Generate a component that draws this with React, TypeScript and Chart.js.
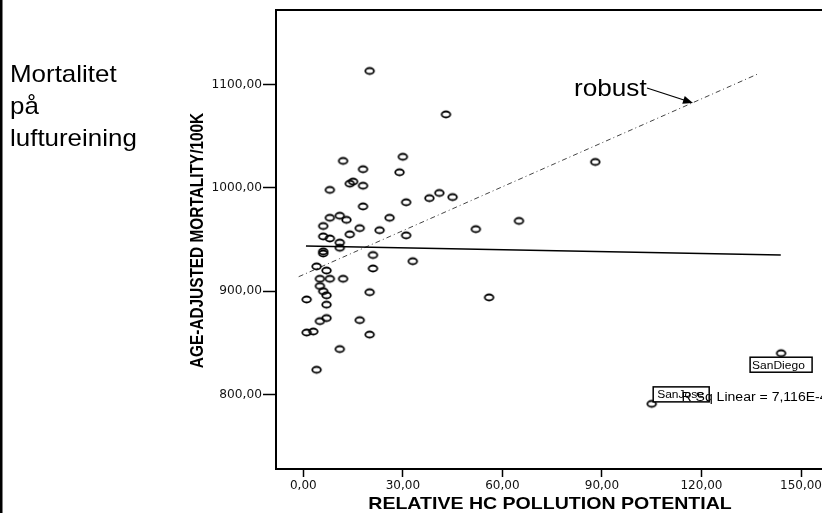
import React, { useEffect, useRef } from "react";
import { Chart, registerables } from "chart.js";
Chart.register(...registerables);

// Data
const hcPollution = [
  20, 43, 12, 30, 18, 29, 14, 15, 18, 8, 18, 31, 38, 41, 45, 65, 8, 11, 13, 26,
  6, 17, 6, 8, 14, 23, 31, 52, 11, 11, 6, 6, 21, 33, 4, 7, 21, 5, 8, 12, 5, 6,
  7, 1, 20, 7, 56, 5, 7, 17, 1, 3, 20, 11, 4, 88, 144, 105,
];
const mortality = [
  1113, 1071, 1026, 1030, 1018, 1015, 1004, 1006, 1002, 998, 982, 986, 990,
  995, 991, 968, 971, 973, 969, 971, 963, 961, 953, 951, 955, 959, 954, 960,
  947, 942, 938.5, 936.5, 935, 929, 924, 920, 922, 912, 912, 912, 905, 900, 896,
  892, 899, 887, 894, 871, 874, 872, 860, 861, 858, 844, 824, 1025, 840, 791,
];
const cityLabels = ["SanDiego", "SanJose"];
const cityIndex = [56, 57];
const linearFitX = [0.8, 143.9];
const linearFitY = [943.7, 935.0];
const robustFitX = [-1.4, 137.4];
const robustFitY = [914, 1110.7];
const xTickValues = [0, 30, 60, 90, 120, 150];
const yTickValues = [800, 900, 1000, 1100];
const sideTitle = ["Mortalitet", "på", "luftureining"];
const xTitle = "RELATIVE HC POLLUTION POTENTIAL";
const yTitle = "AGE-ADJUSTED MORTALITY/100K";
const rsqText = "R Sq Linear = 7,116E-4";
const robustText = "robust";

const SANS = "'Liberation Sans', Arial, sans-serif";

function sText(
  ctx: CanvasRenderingContext2D,
  text: string,
  x: number,
  y: number,
  font: string,
  sx: number,
  align: CanvasTextAlign = "left",
  baseline: CanvasTextBaseline = "alphabetic"
) {
  ctx.save();
  ctx.translate(x, y);
  ctx.scale(sx, 1);
  ctx.font = font;
  ctx.textAlign = align;
  ctx.textBaseline = baseline;
  ctx.fillStyle = "#000";
  ctx.fillText(text, 0, 0);
  ctx.restore();
}

function makeRing(): HTMLCanvasElement {
  const c = document.createElement("canvas");
  c.width = 13;
  c.height = 11;
  const g = c.getContext("2d")!;
  g.strokeStyle = "#000";
  g.lineWidth = 1.8;
  g.beginPath();
  g.ellipse(6.5, 5.5, 4.3, 3.0, 0, 0, Math.PI * 2);
  g.stroke();
  return c;
}

const decorPlugin = {
  id: "decor",
  afterDatasetsDraw(chart: any) {
    const ctx: CanvasRenderingContext2D = chart.ctx;
    const { left, right, top, bottom } = chart.chartArea;
    const xs = chart.scales.x;
    const ys = chart.scales.y;
    ctx.save();
    // outer left border
    ctx.fillStyle = "#000";
    ctx.fillRect(0, 0, 2.5, chart.height);
    // top frame
    ctx.strokeStyle = "#000";
    ctx.lineWidth = 2;
    ctx.beginPath();
    ctx.moveTo(left - 1, top);
    ctx.lineTo(right + 1, top);
    ctx.stroke();

    // side title
    sideTitle.forEach((t, i) =>
      sText(ctx, t, 10, 82 + i * 32, `24px ${SANS}`, 1.08)
    );

    // y title
    ctx.save();
    ctx.translate(198, (top + bottom) / 2 + 1);
    ctx.scale(1.2, 1);
    ctx.rotate(-Math.PI / 2);
    ctx.font = `bold 15.4px ${SANS}`;
    ctx.textAlign = "center";
    ctx.textBaseline = "middle";
    ctx.fillStyle = "#000";
    ctx.fillText(yTitle, 0, 0);
    ctx.restore();

    // x title
    sText(ctx, xTitle, 550, 504, `bold 17px ${SANS}`, 1.15, "center", "middle");

    // robust annotation
    sText(ctx, robustText, 574, 96, `24px ${SANS}`, 1.09);
    const ax0 = 647, ay0 = 88;
    const ax1 = 693, ay1 = 103;
    ctx.strokeStyle = "#000";
    ctx.lineWidth = 1.3;
    ctx.beginPath();
    ctx.moveTo(ax0, ay0);
    ctx.lineTo(ax1 - 6, ay1 - 2);
    ctx.stroke();
    const ang = Math.atan2(ay1 - ay0, ax1 - ax0);
    ctx.fillStyle = "#000";
    ctx.beginPath();
    ctx.moveTo(ax1, ay1);
    ctx.lineTo(ax1 - 10 * Math.cos(ang) + 4 * Math.sin(ang), ay1 - 10 * Math.sin(ang) - 4 * Math.cos(ang));
    ctx.lineTo(ax1 - 10 * Math.cos(ang) - 4 * Math.sin(ang), ay1 - 10 * Math.sin(ang) + 4 * Math.cos(ang));
    ctx.closePath();
    ctx.fill();

    // city label boxes
    cityLabels.forEach((label, i) => {
      const idx = cityIndex[i];
      const px = xs.getPixelForValue(hcPollution[idx]);
      const py = ys.getPixelForValue(mortality[idx]);
      const w = i === 0 ? 62 : 56;
      const h = 15;
      const bx = i === 0 ? px - 31 : px + 1.5;
      const by = i === 0 ? py + 4 : py - 17;
      ctx.fillStyle = "#fff";
      ctx.fillRect(bx, by, w, h);
      ctx.strokeStyle = "#000";
      ctx.lineWidth = 1.5;
      ctx.strokeRect(bx, by, w, h);
      sText(ctx, label, bx + (i === 0 ? 2 : 4), by + 11.5, `10px ${SANS}`, 1.2);
    });

    // R Sq text
    sText(ctx, rsqText, 681.5, 400.5, `12px ${SANS}`, 1.17);
    ctx.restore();
  },
};

export default function App() {
  const ref = useRef<HTMLCanvasElement>(null);
  useEffect(() => {
    if (!ref.current) return;
    const fmt = (v: any) => Number(v).toFixed(2).replace(".", ",");
    const ring = makeRing();
    const chart = new Chart(ref.current, {
      type: "scatter",
      data: {
        datasets: [
          {
            label: "points",
            data: hcPollution.map((x, i) => ({ x, y: mortality[i] })),
            pointStyle: ring,
            pointRadius: 5,
            borderColor: "#000",
            backgroundColor: "rgba(0,0,0,0)",
            showLine: false,
          },
          {
            label: "linear",
            data: linearFitX.map((x, i) => ({ x, y: linearFitY[i] })),
            showLine: true,
            pointRadius: 0,
            borderColor: "#000",
            borderWidth: 1.6,
          },
          {
            label: "robust",
            data: robustFitX.map((x, i) => ({ x, y: robustFitY[i] })),
            showLine: true,
            pointRadius: 0,
            borderColor: "#444",
            borderWidth: 1,
            borderDash: [5, 3, 1, 3],
          },
        ],
      },
      options: {
        animation: false,
        responsive: false,
        events: [],
        layout: { padding: { top: 10, left: 0, right: 6, bottom: 0 } },
        plugins: { legend: { display: false }, tooltip: { enabled: false } },
        scales: {
          x: {
            type: "linear",
            min: -8.23,
            max: 156.93,
            afterBuildTicks: (s: any) => {
              s.ticks = xTickValues.map((v) => ({ value: v }));
            },
            afterFit: (s: any) => {
              s.height = 44;
            },
            ticks: {
              callback: fmt,
              font: { family: "'DejaVu Sans'", size: 12 },
              color: "#111",
              padding: 2,
              maxRotation: 0,
            },
            grid: {
              drawOnChartArea: false,
              drawTicks: true,
              tickLength: 8,
              tickWidth: 1.5,
              tickColor: "#000",
            },
            border: { display: true, color: "#000", width: 2 },
          },
          y: {
            type: "linear",
            min: 728,
            max: 1172,
            afterBuildTicks: (s: any) => {
              s.ticks = yTickValues.map((v) => ({ value: v }));
            },
            afterFit: (s: any) => {
              s.width = 276;
            },
            ticks: {
              callback: fmt,
              font: { family: "'DejaVu Sans'", size: 12.2 },
              color: "#111",
              padding: 1,
            },
            grid: {
              drawOnChartArea: false,
              drawTicks: true,
              tickLength: 13,
              tickWidth: 1.5,
              tickColor: "#000",
            },
            border: { display: true, color: "#000", width: 2 },
          },
        },
      },
      plugins: [decorPlugin],
    } as any);
    return () => chart.destroy();
  }, []);
  return (
    <div
      style={{
        position: "fixed",
        left: 0,
        top: 0,
        width: 822,
        height: 513,
        overflow: "hidden",
        background: "#fff",
      }}
    >
      <canvas ref={ref} width={830} height={513} style={{ display: "block" }} />
    </div>
  );
}
